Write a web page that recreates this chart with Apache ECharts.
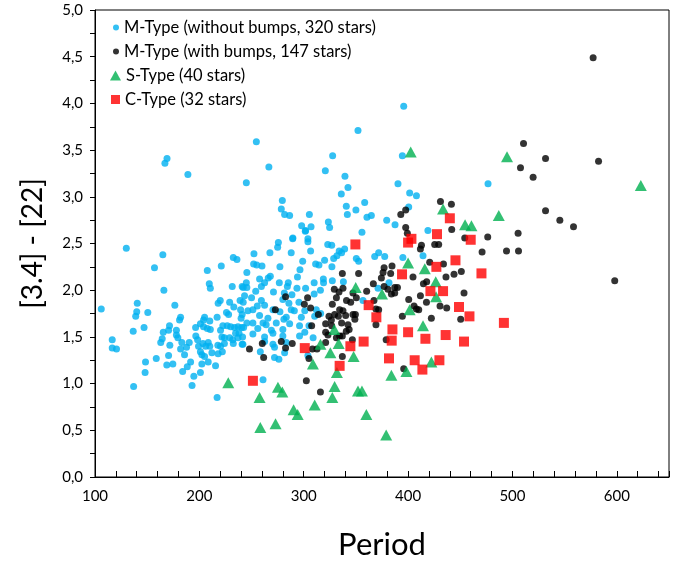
<!DOCTYPE html>
<html>
<head>
<meta charset="utf-8">
<script src="https://cdn.jsdelivr.net/npm/echarts@6/dist/echarts.min.js"></script>
<style>
html,body{margin:0;padding:0;background:#fff;}
#chart{width:697px;height:565px;}
</style>
</head>
<body>
<div id="chart"></div>
<script>
// ---- Data (Period, [3.4]-[22]) ----
var seriesNames = ['M-Type (without bumps, 320 stars)', 'M-Type (with bumps, 147 stars)', 'S-Type (40 stars)', 'C-Type (32 stars)'];

var mNoBumps = [
[169,3.41],[167,3.36],[189,3.24],[130,2.45],[245,3.15],
[165,2.38],[157,2.24],[232.5,2.35],[236,2.33],[221,2.26],[207.6,2.21],[209.5,2.07],[210.5,2.02],[231.5,2.04],[242,2.03],
[166,2.00],[140.5,1.86],[220,1.89],[218,1.86],[229,1.87],[233,1.82],[239,1.89],[242,1.87],[106,1.80],[140,1.77],
[150.6,1.76],[176.5,1.84],[139,1.72],[226,1.76],[228,1.74],[239.5,1.79],[182,1.71],[181,1.68],[205,1.71],[204,1.68],
[210,1.67],[217,1.71],[240,1.70],[171.4,1.62],[196.4,1.60],[201,1.64],[204,1.61],[207.6,1.59],[210.5,1.58],[222.5,1.62],
[226.7,1.62],[230,1.61],[233.7,1.60],[237,1.61],[240.5,1.60],[147,1.60],[136.6,1.56],[165.4,1.55],[170.5,1.57],[178,1.57],
[220.3,1.57],[238,1.54],[164.4,1.48],[163,1.44],[178,1.52],[179.4,1.49],[196.6,1.51],[198.3,1.47],[221.6,1.50],[224,1.49],
[229,1.49],[232,1.47],[234.7,1.54],[237,1.49],[241.4,1.50],[116.5,1.47],[171.7,1.41],[183.2,1.44],[187.7,1.39],[182,1.37],
[190.3,1.44],[199.2,1.40],[203.4,1.43],[208.5,1.44],[206,1.40],[210,1.40],[217.7,1.41],[220.3,1.40],[224,1.43],[232.5,1.43],
[241,1.42],[116.5,1.38],[120.6,1.37],[201,1.34],[202.4,1.31],[205,1.29],[212,1.33],[218,1.32],[222,1.34],[185.8,1.31],
[158.7,1.27],[170.5,1.30],[191.6,1.23],[148.4,1.23],[168.8,1.20],[174.6,1.21],[208.5,1.23],[202.4,1.21],[188.4,1.18],[215.5,1.19],
[184,1.13],[148,1.12],[201,1.12],[194.7,1.08],[137,0.97],[193,0.98],[217,0.85],
[254.6,3.59],[266.6,3.32],[352,3.71],[327.7,3.44],[320.7,3.28],[339.5,3.22],[342.4,3.10],[336,3.03],[279.5,2.96],[278.5,2.87],
[281.7,2.81],[286.5,2.80],[305.4,2.81],[340.8,2.90],[341.8,2.81],[350,2.86],[323.6,2.73],[324.8,2.67],[298,2.69],[301.8,2.64],
[307,2.68],[289.6,2.56],[304,2.55],
[395.8,3.97],[394.5,3.44],[390.3,3.14],[401.5,3.04],[408,3.01],[358.4,2.94],[360.6,2.78],[364.8,2.80],[379.5,2.75],[387.5,2.70],[400.6,2.89],
[301.5,2.63],[289.4,2.55],[275.7,2.51],[275,2.46],[304,2.52],[323,2.49],[326.8,2.48],[339.2,2.44],[252.3,2.39],[267.6,2.40],
[288,2.40],[306.6,2.42],[334,2.42],[336.3,2.40],[331.8,2.37],[328.7,2.34],[320,2.32],[299,2.31],[311.4,2.28],[314.6,2.27],
[252,2.28],[255,2.27],[260,2.26],[277.2,2.25],[296.4,2.22],[327,2.25],[245.5,2.19],[266,2.13],[257.7,2.12],[268,2.15],
[245,2.08],[276.6,2.08],[285.2,2.08],[284.3,2.04],[294,2.14],[310,2.08],[318.8,2.12],[327.4,2.10],[338,2.09],[241,2.04],
[245.5,2.03],[259.4,2.04],[262.5,2.08],[254,1.99],[271,1.98],[281.4,1.97],[293.5,2.02],[301.8,2.02],[316,2.00],[319,2.08],
[243.3,1.94],[250,1.92],[259.4,1.89],[280,1.90],[288.7,1.95],[310,1.96],[295.4,1.87],[285.8,1.86],[255.5,1.83],[262.5,1.84],
[246.5,1.78],[251.3,1.79],[270.5,1.79],[277.2,1.77],[288,1.79],[291,1.78],[301,1.78],[312,1.79],[316.2,1.75],[241,1.74],
[257.7,1.73],[283.3,1.71],[281,1.69],[265.7,1.70],[297.7,1.71],[310.5,1.72],[245.5,1.65],[251.3,1.65],[261,1.65],[264,1.63],
[273.7,1.65],[286.5,1.64],[296,1.62],[305,1.62],[242.4,1.60],[256,1.59],[269,1.57],[270.5,1.54],[280,1.58],[301,1.55],
[251.3,1.53],[262.5,1.50],[296,1.51],
[241.7,1.42],[261,1.04],[262.5,1.45],[270.5,1.42],[272,1.39],[280,1.51],[283.3,1.44],[309,1.49],[272,1.28],[276.2,1.26],
[258.4,1.34],[281.7,1.33],[304,1.30],
[355.8,2.62],[419,2.64],[350.4,2.34],[352.6,2.31],[368,2.36],[371.8,2.40],[377.6,2.36],[395,2.35],[414.3,2.37],[381.7,2.08],
[371.2,2.02],[356.8,1.89],[476.6,3.14]
];

var mBumps = [
[337,2.18],[352.6,2.18],[282.6,1.93],[272.8,1.79],[303.7,1.92],[300.6,1.85],[306.6,1.81],[314,1.74],[307.6,1.62],[329.3,2.01],
[333.8,1.98],[337.6,2.02],[331.3,1.92],[327.4,1.85],[347.2,1.97],[350.4,1.92],[341,1.89],[345,1.87],[334.4,1.79],[337.6,1.78],
[324.2,1.72],[326.5,1.68],[329.6,1.74],[333.2,1.72],[340.2,1.73],[347.2,1.74],[321,1.64],[336.3,1.65],[342.4,1.63],[326.8,1.62],
[349,1.69],[321,1.55],[334.4,1.51],[340.8,1.56],
[248,1.37],[260.3,1.43],[261.6,1.28],[278.5,1.45],[282.6,1.38],[289,1.43],[302.5,1.03],[316,0.91],[305,1.27],[308.3,1.37],
[312.7,1.37],[321,1.44],[323.2,1.52],[337,1.29],[337,1.51],[343.5,1.58],[346.6,1.47],[331.3,1.49],
[431,2.95],[441.5,2.92],[393,2.81],[397.7,2.86],[397.7,2.67],[441.8,2.65],
[399.3,2.61],[454.3,2.56],[412.8,2.48],[411.8,2.44],[425.5,2.49],[429.3,2.49],[470.9,2.41],[420.7,2.30],[433.9,2.28],[377,2.24],
[384.6,2.26],[376,2.19],[383.3,2.18],[374.4,2.13],[404.7,2.14],[414.7,2.07],[417.8,2.09],[436.3,2.14],[444,2.17],[451,2.20],
[366.7,2.07],[360.3,1.99],[377,2.04],[380.7,2.01],[387.2,2.03],[389.8,2.03],[384,1.96],[387.2,1.97],[367.3,1.89],[369.2,1.80],
[371.8,1.79],[369.2,1.63],[400.6,1.90],[411.8,1.94],[417.6,1.87],[405.7,1.83],[408,1.80],[410.2,1.79],[430.6,1.83],[437,1.81],
[394.5,1.72],[422.3,1.70],[450.4,1.69],[453.6,1.97],[349.5,1.74],[379,1.47],[395.8,1.16],
[577.3,4.49],[510.6,3.57],[531.7,3.41],[582.5,3.38],[507.7,3.31],[519.8,3.21],[531.7,2.85],[545.4,2.75],[558.5,2.68],[476.3,2.57],
[505.4,2.61],[494.3,2.42],[505.8,2.42],[598,2.10]
];

var sType = [
[227.7,1.01],[402.5,3.48],[433.5,2.87],[454.6,2.70],[460.7,2.69],[349.8,2.03],[329.3,1.58],
[316,1.42],[333.5,1.43],[325.5,1.33],[308.8,1.21],[347.8,1.29],[331.8,1.12],[275.3,0.96],[279.5,0.91],[257.7,0.85],
[329.6,0.97],[327.4,0.85],[310.5,0.77],[290.3,0.72],[294.2,0.67],[258.4,0.53],[273,0.57],[352,0.92],
[400,2.29],[416,2.23],[426.5,2.09],[426.8,1.93],[375,1.96],[401.5,1.79],[414.3,1.62],
[422.3,1.23],[384,1.09],[398.4,1.13],[355.8,0.92],[360,0.67],[379,0.45],
[494.8,3.43],[623,3.12],[486.9,2.80]
];

var cType = [
[349.5,2.49],[440,2.77],[301,1.38],[251.3,1.03],[334.4,1.19],[344.7,1.40],
[403.2,2.55],[400,2.51],[427.7,2.60],[460,2.54],[445.4,2.32],[427.1,2.25],[394.2,2.17],[470.3,2.18],[421.4,1.99],
[433.5,1.99],[362.2,1.84],[369.6,1.71],[448.8,1.82],[458.8,1.72],
[385,1.58],[400,1.55],[436,1.52],[416.6,1.48],[453.6,1.45],[357.4,1.45],[384.3,1.46],[381.7,1.27],[406.3,1.25],[430,1.25],
[413.7,1.15],[491.8,1.65]
];

var xTickLabels = ['100','200','300','400','500','600'];
var yTickLabels = ['0,0','0,5','1,0','1,5','2,0','2,5','3,0','3,5','4,0','4,5','5,0'];

// ---- Chart ----
var FONT = 'Lato';
var colors = ['#00B0F0', '#000000', '#00B050', '#FF0000'];
var chart = echarts.init(document.getElementById('chart'), null, {renderer: 'canvas'});

function legendFor(i, icon, w, h, top, left) {
  return {
    data: [{name: seriesNames[i], icon: icon}],
    left: left, top: top,
    orient: 'vertical',
    itemWidth: w, itemHeight: h,
    selectedMode: false,
    padding: 0,
    textStyle: {fontFamily: FONT, fontSize: 16.5, color: '#000'}
  };
}

var option = {
  animation: false,
  backgroundColor: '#fff',
  textStyle: {fontFamily: FONT},
  grid: {left: 95, right: 28, top: 10, bottom: 87, show: true, borderColor: '#000', borderWidth: 1, containLabel: false},
  legend: [
    legendFor(0, 'circle', 6, 6, 19, 113),
    legendFor(1, 'circle', 6, 6, 43, 113),
    legendFor(2, 'triangle', 11, 10, 67, 110),
    legendFor(3, 'rect', 9, 9, 91, 111)
  ],
  xAxis: {
    type: 'value', min: 100, max: 650, interval: 20,
    name: 'Period', nameLocation: 'middle', nameGap: 52,
    nameTextStyle: {fontFamily: FONT, fontSize: 31, color: '#000', verticalAlign: 'top'},
    axisLine: {show: true, lineStyle: {color: '#000', width: 1}},
    axisTick: {show: true, inside: true, length: 6, lineStyle: {color: '#000', width: 1}},
    splitLine: {show: false},
    axisLabel: {
      interval: 0, margin: 12, color: '#000', fontFamily: FONT, fontSize: 15,
      formatter: function (v) {
        if (v % 100 === 0) { var idx = xTickLabels.indexOf(String(v)); return idx >= 0 ? xTickLabels[idx] : ''; }
        return '';
      }
    }
  },
  yAxis: {
    type: 'value', min: 0, max: 5, interval: 0.25,
    name: '[3.4] - [22]', nameLocation: 'middle', nameGap: 48, nameRotate: 90,
    nameTextStyle: {fontFamily: FONT, fontSize: 28, color: '#000'},
    axisLine: {show: true, lineStyle: {color: '#000', width: 1}},
    axisTick: {show: true, inside: false, length: 5, lineStyle: {color: '#000'}},
    splitLine: {show: false},
    axisLabel: {
      interval: 0, margin: 12, color: '#000', fontFamily: FONT, fontSize: 15,
      formatter: function (v) {
        var k = Math.round(v * 2);
        if (Math.abs(v * 2 - k) < 1e-6) return yTickLabels[k] || '';
        return '';
      }
    }
  },
  series: [
    {name: seriesNames[0], type: 'scatter', data: mNoBumps, symbol: 'circle', symbolSize: 7, itemStyle: {color: colors[0]}},
    {name: seriesNames[1], type: 'scatter', data: mBumps, symbol: 'circle', symbolSize: 7, itemStyle: {color: colors[1]}},
    {name: seriesNames[2], type: 'scatter', data: sType, symbol: 'triangle', symbolSize: [12, 11], itemStyle: {color: colors[2]}},
    {name: seriesNames[3], type: 'scatter', data: cType, symbol: 'rect', symbolSize: 10, itemStyle: {color: colors[3]}}
  ]
};
chart.setOption(option);
</script>
</body>
</html>
